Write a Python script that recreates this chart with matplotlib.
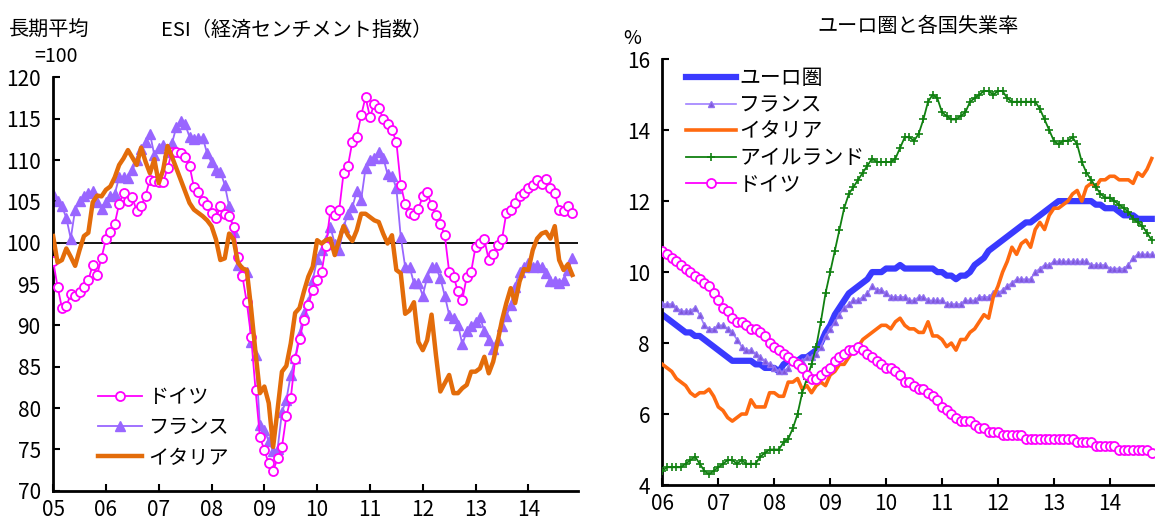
import matplotlib
matplotlib.use("Agg")
import matplotlib.pyplot as plt

plt.rcParams["font.family"] = ["Noto Sans CJK JP", "DejaVu Sans"]

# ESI (long-term average = 100), monthly Jan 2005 - Nov 2014
esi_de = [
    97.8, 94.7, 92.1, 92.3, 93.8, 93.6, 94.0, 94.7, 95.5, 97.3, 96.1, 98.2,
    100.4, 101.3, 102.3, 104.7, 106.0, 105.1, 105.5, 103.8, 104.4, 105.7, 107.6, 107.5,
    107.4, 107.3, 109.0, 111.0, 111.0, 110.9, 110.4, 109.3, 106.7, 106.1, 105.0, 104.5,
    103.6, 103.0, 104.4, 103.5, 103.2, 101.9, 98.3, 96.0, 92.8, 88.6, 82.2, 76.5,
    74.9, 73.3, 72.4, 73.9, 75.3, 79.0, 81.2, 85.9, 88.4, 90.6, 92.5, 94.3,
    95.5, 96.4, 99.6, 103.9, 103.4, 103.9, 108.4, 109.3, 112.2, 112.8, 115.4, 117.6,
    115.2, 116.8, 116.3, 115.0, 114.4, 113.6, 112.2, 107.0, 104.7, 103.6, 103.4, 104.1,
    105.6, 106.1, 104.5, 103.4, 102.3, 100.9, 96.5, 95.9, 94.1, 93.1, 95.9, 96.5,
    99.5, 100.0, 100.4, 97.9, 98.6, 99.7, 100.4, 103.6, 104.0, 104.8, 105.6, 106.0,
    106.6, 107.0, 107.6, 107.1, 107.7, 106.6, 106.0, 104.0, 103.8, 104.4, 103.6,
]
esi_fr = [
    105.9, 105.0, 104.4, 103.0, 100.5, 104.0, 105.0, 105.7, 106.0, 106.3, 104.9, 104.1,
    104.9, 105.6, 105.9, 107.9, 107.9, 107.8, 108.8, 110.0, 111.3, 112.2, 113.2, 110.6,
    111.5, 111.8, 111.0, 112.0, 114.0, 114.7, 114.3, 112.8, 112.5, 112.7, 112.7, 110.8,
    109.7, 108.8, 108.6, 107.0, 104.4, 101.3, 97.3, 96.7, 96.5, 88.0, 86.4, 77.9,
    77.3, 76.0, 74.8, 75.0, 79.5, 81.0, 84.0, 86.0, 89.0, 91.5, 92.8, 95.5,
    98.0, 99.1, 100.3, 101.9, 99.9, 99.1, 101.9, 103.5, 104.3, 106.2, 105.2, 109.0,
    110.0, 110.3, 111.0, 110.3, 108.3, 108.1, 106.6, 100.7, 97.1, 97.1, 95.1, 95.1,
    93.6, 95.8, 97.1, 97.0, 95.7, 93.6, 91.3, 90.9, 90.1, 87.7, 89.3, 89.9,
    90.4, 91.0, 89.3, 88.2, 87.2, 88.2, 89.9, 91.1, 92.5, 94.7, 96.5, 97.1,
    97.6, 97.1, 97.3, 97.1, 96.3, 95.4, 95.4, 95.1, 95.5, 96.7, 98.1,
]
esi_it = [
    100.8, 97.6, 97.9, 99.3, 98.3, 97.2, 99.1, 100.8, 101.2, 104.9, 105.7, 105.6,
    106.4, 106.8, 107.9, 109.4, 110.2, 111.2, 110.3, 109.4, 111.5, 109.8, 108.4, 110.1,
    107.2, 108.8, 111.7, 110.4, 109.0, 107.6, 106.2, 104.8, 104.0, 103.6, 103.2, 102.7,
    102.0, 100.4, 97.9, 98.1, 101.1, 100.4, 97.6, 96.9, 96.7, 92.0, 86.7, 81.8,
    82.6, 80.6, 75.3, 79.8, 84.4, 85.1, 87.8, 91.5, 92.1, 94.1, 95.9, 97.1,
    100.3, 99.9, 100.3, 100.5, 98.5, 100.3, 102.0, 100.9, 100.2, 101.5, 103.5, 103.5,
    103.1, 102.7, 102.5, 101.1, 99.9, 100.9, 96.7, 96.3, 91.4, 91.8, 92.8, 88.0,
    87.0, 88.2, 91.3, 86.4, 82.0, 83.0, 84.0, 81.8, 81.8, 82.4, 82.8, 84.4,
    84.4, 84.8, 86.2, 84.2, 85.6, 88.0, 90.6, 92.7, 94.5, 92.7, 95.3, 96.8,
    96.7, 99.1, 100.5, 101.1, 101.3, 100.5, 102.0, 97.9, 96.7, 97.4, 96.1,
]
esi_years = ["05", "06", "07", "08", "09", "10", "11", "12", "13", "14"]

# Unemployment rate (%), monthly Jan 2006 - Oct 2014
ue_ea = [
    8.8, 8.7, 8.6, 8.5, 8.4, 8.3, 8.3, 8.2, 8.2, 8.1, 8.0, 7.9,
    7.8, 7.7, 7.6, 7.5, 7.5, 7.5, 7.5, 7.5, 7.4, 7.4, 7.3, 7.3,
    7.3, 7.2, 7.4, 7.5, 7.5, 7.5, 7.6, 7.6, 7.7, 7.8, 8.0, 8.3,
    8.5, 8.8, 9.0, 9.2, 9.4, 9.5, 9.6, 9.7, 9.8, 10.0, 10.0, 10.0,
    10.1, 10.1, 10.1, 10.2, 10.1, 10.1, 10.1, 10.1, 10.1, 10.1, 10.1, 10.0,
    10.0, 9.9, 9.9, 9.8, 9.9, 9.9, 10.0, 10.2, 10.3, 10.4, 10.6, 10.7,
    10.8, 10.9, 11.0, 11.1, 11.2, 11.3, 11.4, 11.4, 11.5, 11.6, 11.7, 11.8,
    11.9, 12.0, 12.0, 12.0, 12.0, 12.0, 12.0, 12.0, 12.0, 11.9, 11.9, 11.8,
    11.8, 11.8, 11.7, 11.6, 11.6, 11.6, 11.5, 11.5, 11.5, 11.5,
]
ue_fr = [
    9.1, 9.1, 9.1, 9.0, 8.9, 8.9, 8.9, 9.0, 8.8, 8.5, 8.4, 8.4,
    8.5, 8.5, 8.4, 8.3, 8.1, 7.9, 7.8, 7.8, 7.7, 7.6, 7.5, 7.4,
    7.3, 7.2, 7.2, 7.3, 7.5, 7.5, 7.5, 7.6, 7.6, 7.7, 7.9, 8.2,
    8.4, 8.6, 8.8, 9.0, 9.1, 9.2, 9.2, 9.3, 9.4, 9.6, 9.5, 9.5,
    9.4, 9.3, 9.3, 9.3, 9.3, 9.2, 9.2, 9.3, 9.3, 9.2, 9.2, 9.2,
    9.2, 9.1, 9.1, 9.1, 9.1, 9.2, 9.2, 9.2, 9.3, 9.3, 9.3, 9.4,
    9.4, 9.5, 9.6, 9.7, 9.8, 9.8, 9.8, 9.8, 10.0, 10.1, 10.2, 10.2,
    10.3, 10.3, 10.3, 10.3, 10.3, 10.3, 10.3, 10.3, 10.2, 10.2, 10.2, 10.2,
    10.1, 10.1, 10.1, 10.1, 10.2, 10.4, 10.5, 10.5, 10.5, 10.5,
]
ue_it = [
    7.4, 7.3, 7.2, 7.0, 6.9, 6.8, 6.6, 6.5, 6.6, 6.6, 6.7, 6.5,
    6.2, 6.1, 5.9, 5.8, 5.9, 6.0, 6.0, 6.4, 6.2, 6.2, 6.2, 6.6,
    6.6, 6.5, 6.5, 6.9, 6.9, 7.0, 6.7, 6.8, 6.6, 6.8, 6.9, 6.8,
    7.1, 7.2, 7.4, 7.4, 7.6, 7.8, 7.9, 8.1, 8.2, 8.3, 8.4, 8.5,
    8.5, 8.4, 8.6, 8.7, 8.5, 8.4, 8.4, 8.3, 8.3, 8.6, 8.2, 8.2,
    8.1, 7.9, 8.0, 7.8, 8.1, 8.1, 8.3, 8.4, 8.6, 8.8, 8.7, 9.3,
    9.6, 10.0, 10.3, 10.7, 10.5, 10.8, 10.9, 10.7, 11.2, 11.4, 11.2, 11.6,
    11.8, 11.8, 11.9, 12.0, 12.2, 12.3, 12.0, 12.4, 12.5, 12.4, 12.6, 12.6,
    12.7, 12.7, 12.6, 12.6, 12.6, 12.5, 12.8, 12.7, 12.9, 13.2,
]
ue_ie = [
    4.4, 4.5, 4.5, 4.5, 4.5, 4.6, 4.7, 4.8, 4.6, 4.4, 4.3, 4.4,
    4.5, 4.6, 4.7, 4.7, 4.6, 4.7, 4.6, 4.6, 4.6, 4.8, 4.9, 5.0,
    5.0, 5.0, 5.2, 5.3, 5.6, 6.0, 6.6, 7.0, 7.4, 7.9, 8.6, 9.4,
    10.0, 10.6, 11.2, 11.8, 12.2, 12.4, 12.6, 12.8, 13.0, 13.2, 13.1, 13.1,
    13.1, 13.1, 13.2, 13.5, 13.8, 13.8, 13.7, 13.9, 14.3, 14.8, 15.0, 14.9,
    14.5, 14.4, 14.3, 14.3, 14.4, 14.5, 14.8, 14.9, 15.0, 15.1, 15.1, 15.0,
    15.1, 15.1, 14.9, 14.8, 14.8, 14.8, 14.8, 14.8, 14.8, 14.6, 14.3, 14.0,
    13.7, 13.6, 13.7, 13.7, 13.8, 13.6, 13.1, 12.8, 12.6, 12.4, 12.2, 12.1,
    12.1, 12.0, 11.9, 11.8, 11.7, 11.5, 11.4, 11.3, 11.1, 10.9,
]
ue_de = [
    10.6, 10.5, 10.4, 10.3, 10.2, 10.1, 10.0, 9.9, 9.8, 9.7, 9.6, 9.4,
    9.2, 9.0, 8.9, 8.7, 8.6, 8.6, 8.5, 8.4, 8.4, 8.3, 8.2, 8.0,
    7.9, 7.8, 7.7, 7.6, 7.5, 7.4, 7.3, 7.1, 7.0, 7.0, 7.1, 7.2,
    7.3, 7.5, 7.6, 7.7, 7.8, 7.8, 7.9, 7.8, 7.7, 7.6, 7.5, 7.4,
    7.3, 7.3, 7.2, 7.1, 6.9, 6.9, 6.8, 6.7, 6.7, 6.6, 6.5, 6.4,
    6.2, 6.1, 6.0, 5.9, 5.8, 5.8, 5.8, 5.7, 5.6, 5.6, 5.5, 5.5,
    5.5, 5.4, 5.4, 5.4, 5.4, 5.4, 5.3, 5.3, 5.3, 5.3, 5.3, 5.3,
    5.3, 5.3, 5.3, 5.3, 5.3, 5.2, 5.2, 5.2, 5.2, 5.1, 5.1, 5.1,
    5.1, 5.1, 5.0, 5.0, 5.0, 5.0, 5.0, 5.0, 5.0, 4.9,
]
ue_years = ["06", "07", "08", "09", "10", "11", "12", "13", "14"]

fig = plt.figure(figsize=(11.55, 5.19), dpi=100)
ax1 = fig.add_axes([0.046, 0.0545, 0.4545, 0.7965])
ax2 = fig.add_axes([0.5735, 0.0655, 0.4265, 0.8205])

def style_axes(ax):
    for side in ("top", "right"):
        ax.spines[side].set_visible(False)
    for side in ("left", "bottom"):
        ax.spines[side].set_linewidth(2)
    ax.tick_params(direction="in", length=5, width=1.5, labelsize=15)
    ax.tick_params(axis="y", pad=9)
    ax.tick_params(axis="x", pad=6)

############################################
# Left: ESI
############################################

x = list(range(len(esi_de)))
ax1.axhline(100, color="black", lw=1.3, zorder=1)
ax1.plot(x, esi_de, color="#FF00FF", lw=1.3, marker="o", ms=6.5,
         mfc="white", mec="#FF00FF", mew=1.3, label="ドイツ", zorder=3)
ax1.plot(x, esi_fr, color="#9966FF", lw=1.3, marker="^", ms=6.5,
         mfc="#9966FF", mec="#9966FF", label="フランス", zorder=2)
ax1.plot(x, esi_it, color="#E36C0A", lw=3.2, label="イタリア", zorder=4)

ax1.set_xlim(0, 119.3)
ax1.set_ylim(70, 120)
ax1.set_yticks(range(70, 121, 5))
ax1.set_xticks([12 * k for k in range(len(esi_years))])
ax1.set_xticklabels(esi_years)
style_axes(ax1)
ax1.legend(loc="lower left", bbox_to_anchor=(0.05, 0.01), frameon=False,
           fontsize=14.5, handlelength=2.2, labelspacing=0.45, handletextpad=0.3)

fig.text(0.008, 1 - 30 / 519, "長期平均", fontsize=14.5, va="center")
fig.text(0.030, 1 - 57 / 519, "=100", fontsize=14, va="center")
fig.text(297 / 1155, 1 - 30 / 519, "ESI（経済センチメント指数）",
         fontsize=14.5, ha="center", va="center")

############################################
# Right: unemployment rates
############################################

m = list(range(len(ue_ea)))
ax2.plot(m, ue_ea, color="#3A3AFF", lw=4.5, label="ユーロ圏", zorder=2)
ax2.plot(m, ue_fr, color="#A080FF", lw=1.2, marker="^", ms=5,
         mfc="#7E55D8", mec="#9070F0", label="フランス", zorder=3)
ax2.plot(m, ue_it, color="#FF6A10", lw=2.6, label="イタリア", zorder=4)
ax2.plot(m, ue_ie, color="#108010", lw=1.3, marker="+", ms=6, mew=1.2,
         label="アイルランド", zorder=5)
ax2.plot(m, ue_de, color="#FF00FF", lw=1.3, marker="o", ms=6.5,
         mfc="white", mec="#FF00FF", mew=1.3, label="ドイツ", zorder=6)

ax2.set_xlim(0, 105.7)
ax2.set_ylim(4, 16)
ax2.set_yticks(range(4, 17, 2))
ax2.set_xticks([12 * k for k in range(len(ue_years))])
ax2.set_xticklabels(ue_years)
style_axes(ax2)
ax2.legend(loc="upper left", bbox_to_anchor=(0.01, 1.025), frameon=False,
           fontsize=15, handlelength=2.4, labelspacing=0.22, handletextpad=0.15)

fig.text(918 / 1155, 1 - 27 / 519, "ユーロ圏と各国失業率",
         fontsize=14.5, ha="center", va="center")
fig.text(632 / 1155, 1 - 38 / 519, "%", fontsize=14, ha="center", va="center")

fig.savefig("out.png", dpi=100)
